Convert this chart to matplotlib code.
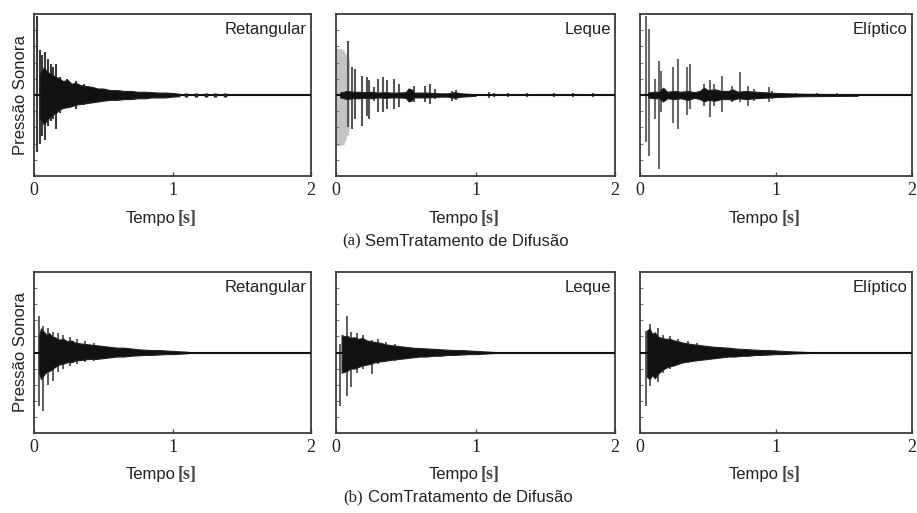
import matplotlib
matplotlib.use('Agg')
import matplotlib.pyplot as plt

# ---------------- data (time in s, normalized pressure) ----------------
time_ticks = [0, 1, 2]
panel_titles = ['Retangular', 'Leque', 'Elíptico']
ylabel_text = 'Pressão Sonora'
xlabel_word = 'Tempo'
xlabel_unit = '[s]'
caption_a = ('(a)', 'SemTratamento de Difusão')
caption_b = ('(b)', 'ComTratamento de Difusão')

# (a) Retangular, sem tratamento
a1_spk_t = [0.025, 0.045, 0.060, 0.080, 0.100, 0.120, 0.135, 0.160, 0.190, 0.240, 0.300, 0.360]
a1_spk_hi = [0.98, 0.55, 0.50, 0.53, 0.45, 0.38, 0.34, 0.38, 0.22, 0.20, 0.17, 0.14]
a1_spk_lo = [-0.70, -0.60, -0.50, -0.55, -0.38, -0.32, -0.30, -0.42, -0.22, -0.16, -0.17, -0.12]
a1_env_t = [0.04, 0.07, 0.10, 0.13, 0.16, 0.18, 0.21, 0.24, 0.27, 0.30, 0.34, 0.38, 0.42,
            0.46, 0.50, 0.55, 0.60, 0.65, 0.70, 0.75, 0.80, 0.85, 0.90, 0.95, 1.00, 1.05]
a1_env_hi = [0.26, 0.34, 0.28, 0.25, 0.22, 0.21, 0.17, 0.19, 0.14, 0.15, 0.12, 0.11, 0.10,
             0.08, 0.08, 0.06, 0.06, 0.05, 0.05, 0.04, 0.04, 0.035, 0.03, 0.03, 0.025, 0.015]
a1_env_lo = [-0.28, -0.36, -0.30, -0.25, -0.22, -0.18, -0.16, -0.15, -0.14, -0.12, -0.11, -0.10, -0.09,
             -0.08, -0.07, -0.06, -0.06, -0.05, -0.05, -0.04, -0.04, -0.03, -0.03, -0.03, -0.02, -0.015]
a1_dot_t = [1.10, 1.17, 1.24, 1.31, 1.38]
a1_dot_v = [0.02, 0.02, 0.02, 0.02, 0.02]

# (a) Leque
a2_early_t = [0.020, 0.030, 0.040, 0.050, 0.060, 0.070, 0.078]
a2_early_hi = [0.57, 0.55, 0.56, 0.52, 0.50, 0.48, 0.45]
a2_early_lo = [-0.63, -0.60, -0.62, -0.58, -0.55, -0.50, -0.45]
a2_spk_t = [0.086, 0.115, 0.139, 0.186, 0.22, 0.239, 0.27, 0.30, 0.335, 0.366, 0.418, 0.454,
            0.533, 0.557, 0.636, 0.676, 0.712, 0.83, 0.86, 1.10, 1.13, 1.23, 1.37, 1.56, 1.70, 1.84]
a2_spk_hi = [0.67, 0.34, 0.32, 0.24, 0.22, 0.18, 0.095, 0.20, 0.22, 0.18, 0.20, 0.136,
             0.074, 0.115, 0.115, 0.136, 0.074, 0.053, 0.06, 0.04, 0.03, 0.025, 0.02, 0.02, 0.02, 0.02]
a2_spk_lo = [-0.40, -0.42, -0.30, -0.38, -0.255, -0.30, -0.07, -0.21, -0.21, -0.17, -0.17, -0.15,
             -0.07, -0.09, -0.09, -0.11, -0.05, -0.07, -0.06, -0.04, -0.03, -0.025, -0.02, -0.02, -0.02, -0.02]
a2_env_t = [0.03, 0.08, 0.12, 0.16, 0.20, 0.25, 0.30, 0.35, 0.40, 0.45, 0.50, 0.52, 0.54,
            0.56, 0.60, 0.65, 0.70, 0.75, 0.80, 0.85, 0.90, 1.00]
a2_env_hi = [0.03, 0.05, 0.04, 0.04, 0.035, 0.04, 0.03, 0.035, 0.03, 0.03, 0.035, 0.08, 0.07,
             0.03, 0.03, 0.03, 0.025, 0.02, 0.02, 0.035, 0.02, 0.01]
a2_env_lo = [-0.03, -0.05, -0.04, -0.04, -0.035, -0.04, -0.03, -0.035, -0.03, -0.03, -0.035, -0.08, -0.07,
             -0.03, -0.03, -0.03, -0.025, -0.02, -0.02, -0.035, -0.02, -0.01]

# (a) Elíptico
a3_spk_t = [0.043, 0.067, 0.107, 0.143, 0.157, 0.243, 0.276, 0.345, 0.364, 0.471, 0.514, 0.543,
            0.60, 0.674, 0.738, 0.793, 0.84, 0.948, 0.971, 1.05, 1.15, 1.30, 1.45]
a3_spk_hi = [0.98, 0.81, 0.20, 0.42, 0.30, 0.34, 0.44, 0.34, 0.38, 0.14, 0.18, 0.136,
             0.24, 0.115, 0.28, 0.115, 0.074, 0.095, 0.05, 0.03, 0.03, 0.02, 0.02]
a3_spk_lo = [-0.58, -0.75, -0.30, -0.91, -0.21, -0.34, -0.42, -0.25, -0.17, -0.13, -0.276, -0.13,
             -0.21, -0.09, -0.09, -0.13, -0.07, -0.09, -0.05, -0.03, -0.03, -0.02, -0.02]
a3_env_t = [0.06, 0.10, 0.14, 0.17, 0.20, 0.25, 0.30, 0.35, 0.40, 0.44, 0.47, 0.50, 0.55,
            0.60, 0.65, 0.68, 0.72, 0.78, 0.85, 0.90, 0.95, 1.00, 1.10, 1.20, 1.40, 1.60]
a3_env_hi = [0.03, 0.04, 0.04, 0.09, 0.04, 0.05, 0.04, 0.05, 0.035, 0.05, 0.09, 0.06, 0.07,
             0.05, 0.05, 0.07, 0.04, 0.05, 0.04, 0.035, 0.03, 0.025, 0.02, 0.015, 0.012, 0.01]
a3_env_lo = [-0.03, -0.04, -0.04, -0.08, -0.04, -0.05, -0.04, -0.06, -0.035, -0.05, -0.08, -0.06, -0.07,
             -0.05, -0.05, -0.06, -0.04, -0.05, -0.04, -0.035, -0.03, -0.025, -0.02, -0.015, -0.012, -0.01]

# (b) Retangular, com tratamento
b1_spk_t = [0.036, 0.067, 0.10, 0.14, 0.17, 0.21, 0.26, 0.31, 0.37, 0.43]
b1_spk_hi = [0.45, 0.33, 0.30, 0.26, 0.24, 0.22, 0.19, 0.17, 0.14, 0.12]
b1_spk_lo = [-0.67, -0.73, -0.40, -0.35, -0.24, -0.20, -0.17, -0.14, -0.12, -0.10]
b1_env_t = [0.035, 0.05, 0.07, 0.09, 0.11, 0.13, 0.15, 0.18, 0.21, 0.24, 0.27, 0.30, 0.35, 0.40, 0.45,
            0.50, 0.55, 0.60, 0.65, 0.70, 0.75, 0.80, 0.85, 0.90, 0.95, 1.00, 1.05, 1.10, 1.13]
b1_env_hi = [0.20, 0.30, 0.26, 0.22, 0.24, 0.20, 0.19, 0.16, 0.17, 0.14, 0.15, 0.12, 0.11, 0.10, 0.09,
             0.08, 0.07, 0.06, 0.06, 0.05, 0.04, 0.035, 0.03, 0.03, 0.025, 0.02, 0.015, 0.01, 0.005]
b1_env_lo = [-0.25, -0.33, -0.28, -0.24, -0.23, -0.21, -0.18, -0.15, -0.14, -0.12, -0.12, -0.10, -0.09, -0.08, -0.08,
             -0.07, -0.06, -0.05, -0.05, -0.04, -0.035, -0.03, -0.03, -0.025, -0.02, -0.02, -0.015, -0.01, -0.005]

# (b) Leque
b2_spk_t = [0.030, 0.077, 0.11, 0.15, 0.19, 0.256, 0.30, 0.36, 0.42]
b2_spk_hi = [0.10, 0.45, 0.25, 0.24, 0.22, 0.15, 0.17, 0.13, 0.11]
b2_spk_lo = [-0.67, -0.54, -0.43, -0.26, -0.20, -0.27, -0.14, -0.12, -0.10]
b2_env_t = [0.04, 0.06, 0.08, 0.10, 0.13, 0.16, 0.19, 0.22, 0.25, 0.28, 0.32, 0.36, 0.40, 0.45,
            0.50, 0.55, 0.60, 0.65, 0.70, 0.75, 0.80, 0.85, 0.90, 0.95, 1.00, 1.05, 1.10, 1.15]
b2_env_hi = [0.22, 0.20, 0.21, 0.18, 0.19, 0.17, 0.18, 0.15, 0.14, 0.13, 0.12, 0.10, 0.09, 0.08,
             0.07, 0.06, 0.055, 0.05, 0.045, 0.04, 0.035, 0.03, 0.03, 0.025, 0.02, 0.015, 0.01, 0.005]
b2_env_lo = [-0.25, -0.24, -0.23, -0.20, -0.20, -0.18, -0.16, -0.15, -0.14, -0.12, -0.11, -0.10, -0.09, -0.08,
             -0.07, -0.06, -0.05, -0.05, -0.04, -0.04, -0.03, -0.03, -0.025, -0.02, -0.02, -0.015, -0.01, -0.005]

# (b) Elíptico
b3_spk_t = [0.043, 0.07, 0.13, 0.17, 0.22, 0.28, 0.35, 0.42]
b3_spk_hi = [0.27, 0.36, 0.30, 0.22, 0.21, 0.17, 0.14, 0.12]
b3_spk_lo = [-0.67, -0.42, -0.37, -0.26, -0.20, -0.16, -0.13, -0.11]
b3_env_t = [0.05, 0.07, 0.09, 0.11, 0.13, 0.16, 0.19, 0.22, 0.25, 0.28, 0.32, 0.36, 0.40, 0.45, 0.50,
            0.55, 0.60, 0.65, 0.70, 0.75, 0.80, 0.85, 0.90, 0.95, 1.00, 1.05, 1.10, 1.15, 1.20, 1.26]
b3_env_hi = [0.27, 0.30, 0.23, 0.25, 0.20, 0.18, 0.17, 0.17, 0.15, 0.14, 0.12, 0.11, 0.10, 0.09, 0.08,
             0.07, 0.065, 0.06, 0.05, 0.045, 0.04, 0.035, 0.03, 0.03, 0.025, 0.02, 0.015, 0.012, 0.008, 0.005]
b3_env_lo = [-0.30, -0.33, -0.28, -0.32, -0.27, -0.22, -0.19, -0.17, -0.16, -0.14, -0.12, -0.11, -0.10, -0.09, -0.08,
             -0.07, -0.06, -0.05, -0.05, -0.04, -0.04, -0.03, -0.03, -0.025, -0.02, -0.02, -0.015, -0.01, -0.008, -0.005]

# ---------------- drawing ----------------
W, H = 917, 513
fig = plt.figure(figsize=(W / 100, H / 100), dpi=100)
fig.patch.set_facecolor('white')

SANS = ['Liberation Sans', 'DejaVu Sans']
SERIF = ['Liberation Serif', 'DejaVu Serif']

col_x = [34, 336, 640]
col_w = [277, 279, 272]
row_y = [14, 272]
row_h = [162, 161]


def make_ax(r, c):
    left = col_x[c] / W
    bottom = 1 - (row_y[r] + row_h[r]) / H
    ax = fig.add_axes([left, bottom, col_w[c] / W, row_h[r] / H])
    ax.set_xlim(0, 2)
    ax.set_ylim(-1, 1)
    for s in ax.spines.values():
        s.set_color('#3a3a3a')
        s.set_linewidth(1.3)
    ax.set_xticks(time_ticks)
    ax.set_xticklabels([str(v) for v in time_ticks], family=SERIF, fontsize=13, color='#222')
    ax.tick_params(axis='x', direction='in', length=3, width=1, pad=4, color='#555')
    ax.set_yticks([-0.8, -0.6, -0.4, -0.2, 0.2, 0.4, 0.6, 0.8])
    ax.set_yticklabels([])
    ax.tick_params(axis='y', direction='in', length=2, width=0.8, color='#777')
    ax.text(0.985, 0.95, panel_titles[c], transform=ax.transAxes, ha='right', va='top',
            family=SANS, fontsize=12, color='#222')
    ax.text(0.51, -0.26, xlabel_word, transform=ax.transAxes, ha='right', va='center',
            family=SANS, fontsize=12, color='#222')
    ax.text(0.52, -0.26, xlabel_unit, transform=ax.transAxes, ha='left', va='center',
            family=SERIF, fontsize=13, color='#444', fontweight='bold')
    if c == 0:
        ax.set_ylabel(ylabel_text, family=SANS, fontsize=12, color='#222', labelpad=1)
    return ax


def draw(ax, env_t, env_hi, env_lo, spk_t, spk_hi, spk_lo, spk_color, spk_lw):
    ax.vlines(spk_t, spk_lo, spk_hi, color=spk_color, lw=spk_lw, zorder=2)
    ax.fill_between(env_t, env_lo, env_hi, color='#111', lw=0.8, edgecolor='#222', zorder=3)
    ax.axhline(0, color='#111', lw=1.5, zorder=4)


ax = make_ax(0, 0)
draw(ax, a1_env_t, a1_env_hi, a1_env_lo, a1_spk_t, a1_spk_hi, a1_spk_lo, '#3a3a3a', 1.5)
ax.vlines(a1_dot_t, [-v for v in a1_dot_v], a1_dot_v, color='#222', lw=2.5, zorder=4)

ax = make_ax(0, 1)
ax.vlines(a2_early_t, a2_early_lo, a2_early_hi, color='#c4c4c4', lw=4, zorder=1)
draw(ax, a2_env_t, a2_env_hi, a2_env_lo, a2_spk_t, a2_spk_hi, a2_spk_lo, '#555', 1.5)

ax = make_ax(0, 2)
draw(ax, a3_env_t, a3_env_hi, a3_env_lo, a3_spk_t, a3_spk_hi, a3_spk_lo, '#6a6a6a', 1.5)

ax = make_ax(1, 0)
draw(ax, b1_env_t, b1_env_hi, b1_env_lo, b1_spk_t, b1_spk_hi, b1_spk_lo, '#333', 1.1)
ax = make_ax(1, 1)
draw(ax, b2_env_t, b2_env_hi, b2_env_lo, b2_spk_t, b2_spk_hi, b2_spk_lo, '#333', 1.1)
ax = make_ax(1, 2)
draw(ax, b3_env_t, b3_env_hi, b3_env_lo, b3_spk_t, b3_spk_hi, b3_spk_lo, '#333', 1.1)

# captions
fig.text(342 / W, 1 - 241 / H, caption_a[0], family=SERIF, fontsize=12, va='center', ha='left', color='#222')
fig.text(365 / W, 1 - 241 / H, caption_a[1], family=SANS, fontsize=12, va='center', ha='left', color='#222')
fig.text(343 / W, 1 - 497 / H, caption_b[0], family=SERIF, fontsize=12, va='center', ha='left', color='#222')
fig.text(368 / W, 1 - 497 / H, caption_b[1], family=SANS, fontsize=12, va='center', ha='left', color='#222')

fig.savefig('out.png', dpi=100, facecolor='white')
